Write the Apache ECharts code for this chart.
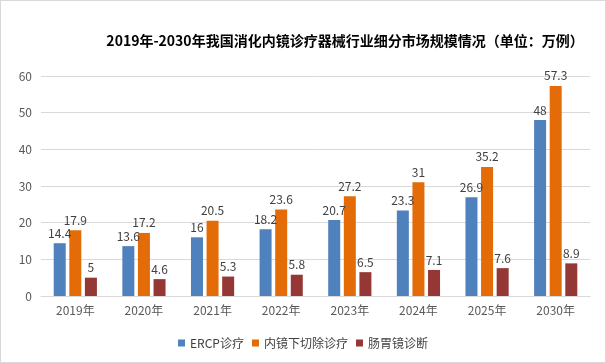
<!DOCTYPE html>
<html><head><meta charset="utf-8">
<script src="https://cdn.jsdelivr.net/npm/echarts@6/dist/echarts.min.js"></script>
<style>html,body{margin:0;padding:0;background:#fff}#c{width:604px;height:361px;border:1px solid #d9d9d9}</style>
</head><body><div id="c"></div>
<script>
var categories = ['2019年','2020年','2021年','2022年','2023年','2024年','2025年','2030年'];
var ercp = [14.4,13.6,16,18.2,20.7,23.3,26.9,48];
var resection = [17.9,17.2,20.5,23.6,27.2,31,35.2,57.3];
var diagnosis = [5,4.6,5.3,5.8,6.5,7.1,7.6,8.9];
var seriesNames = ['ERCP诊疗','内镜下切除诊疗','肠胃镜诊断'];
var colors = ['#4F81BD','#E36C09','#953735'];
var font = '"Noto Sans CJK SC", "Microsoft YaHei", sans-serif';
var chart = echarts.init(document.getElementById('c'));
function mk(name, data, color){
  return {name:name,type:'bar',data:data,barWidth:12,barGap:'30%',
    itemStyle:{color:color},
    label:{show:true,position:'top',color:'#404040',fontSize:12,fontFamily:font,distance:4}};
}
chart.setOption({
  animation:false,
  title:{text:'2019年-2030年我国消化内镜诊疗器械行业细分市场规模情况（单位：万例）',
    left:339,textAlign:'center',top:28,
    textStyle:{fontSize:14,fontWeight:'bold',color:'#000',fontFamily:font}},
  grid:{left:40,right:15,top:75,bottom:66},
  legend:{bottom:8,left:'center',itemWidth:7,itemHeight:7,itemGap:8,icon:'rect',
    textStyle:{fontSize:12,color:'#404040',fontFamily:font},data:seriesNames},
  xAxis:{type:'category',data:categories,
    axisLine:{lineStyle:{color:'#d9d9d9'}},axisTick:{show:false},
    axisLabel:{color:'#595959',fontSize:12,fontFamily:font,margin:8}},
  yAxis:{type:'value',min:0,max:60,interval:10,
    axisLine:{show:false},axisTick:{show:false},
    splitLine:{lineStyle:{color:'#d9d9d9'}},
    axisLabel:{color:'#595959',fontSize:12,fontFamily:font,margin:9}},
  series:[mk(seriesNames[0],ercp,colors[0]),mk(seriesNames[1],resection,colors[1]),mk(seriesNames[2],diagnosis,colors[2])]
});
</script></body></html>
